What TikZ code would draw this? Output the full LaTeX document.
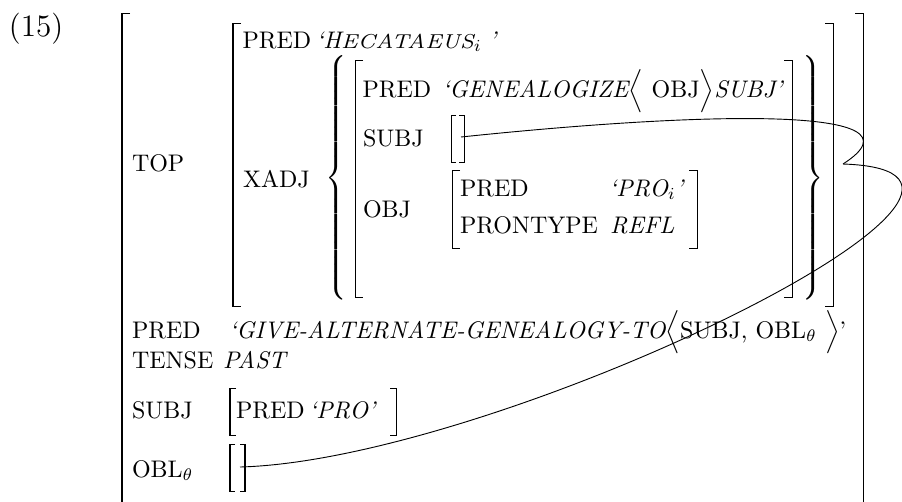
\documentclass[tikz,border=0pt]{standalone}
\usepackage{graphicx}
\newcommand\mybrace[2]{$\delimitershortfall=0pt\delimiterfactor=1000
  \left#1\vrule height \dimexpr#2+2.5pt\relax depth \dimexpr#2-2.5pt\relax width 0pt\right.$}
\newcommand\mysc[1]{\scalebox{1.13}[1]{\fontsize{8.4}{10}\selectfont #1}}
\begin{document}
\begin{tikzpicture}[x=0.4167pt,y=-0.4167pt,
  every node/.style={inner sep=0pt,outer sep=0pt},
  lab/.style={anchor=base west},
  val/.style={anchor=base west,font=\itshape},
  brk/.style={line width=0.42pt},
  link/.style={line width=0.38pt},
  bracenode/.style={anchor=center}]
\useasboundingbox (0,0) rectangle (902,501);
\newcommand\LB[4]{\draw[brk] (#1+#4,#2) -- (#1,#2) -- (#1,#3) -- (#1+#4,#3);}
\newcommand\RB[4]{\draw[brk] (#1-#4,#2) -- (#1,#2) -- (#1,#3) -- (#1-#4,#3);}
% brackets
\LB{122}{13}{540}{8} \RB{863}{13}{540}{8}
\LB{233}{23}{306}{8} \RB{833}{23}{306}{8}
\LB{355}{60}{297}{8} \RB{792}{60}{297}{8}
\LB{452}{170}{248}{8} \RB{697}{170}{248}{8}
\LB{451}{115}{162}{5} \RB{464}{115}{162}{5}
\LB{230}{388}{435}{6} \RB{396}{388}{435}{6}
\LB{230}{444}{491}{5} \RB{245}{444}{491}{5}
% braces
\node[bracenode] (lbrace) at (338,178) {\mybrace{\{}{49.4pt}};
\node[bracenode] (rbrace) at (815,178) {\mybrace{\}}{49.4pt}};
% example number
\node[lab] (ex) at (9,36) {\fontsize{13}{15}\selectfont (15)};
% TOP
\node[lab] (top) at (132,171) {TOP};
\node[lab] (pred1) at (242.5,48) {PRED};
\node[val] (hec) at (316,48) {‘H\mysc{ECATAEUS}$_i$\kern3pt’};
\node[lab] (xadj) at (243,187) {XADJ};
\node[lab] (pred2) at (362.5,97) {PRED};
\node[val] (gen) at (442,97) {‘GENEALOGIZE$\Bigl\langle$ \upshape OBJ$\Bigr\rangle$\itshape SUBJ’};
\node[lab] (subj2) at (363,146) {SUBJ};
\coordinate (sx) at (461,137);
\node[lab] (obj2) at (363,217) {OBJ};
\node[lab] (pred3) at (460,196) {PRED};
\node[val] (pro1) at (609,196) {‘PRO$_i$’};
\node[lab] (pront) at (460,233) {PRONTYPE};
\node[val] (refl) at (610,233) {REFL};
% main
\node[lab] (pred4) at (132,338) {PRED};
\node[val] (give) at (229,338) {‘GIVE-ALTERNATE-GENEALOGY-TO$\Bigl\langle$\upshape SUBJ, OBL$_\theta$ $\Bigr\rangle$’};
\node[lab] (tense) at (132,368) {TENSE};
\node[val] (past) at (223,368) {PAST};
\node[lab] (subj4) at (132,418) {SUBJ};
\node[lab] (pred5) at (236,418) {PRED};
\node[val] (pro2) at (309,418) {‘PRO’};
\node[lab] (obl) at (132,477) {OBL$_\theta$};
\coordinate (ox) at (240,467);
\coordinate (topf) at (843,164);
% links
\draw[link] (sx) .. controls (700,112) and (935,105) .. (topf);
\draw[link] (ox) .. controls (500,460) and (1090,172) .. (topf);
\end{tikzpicture}
\end{document}
